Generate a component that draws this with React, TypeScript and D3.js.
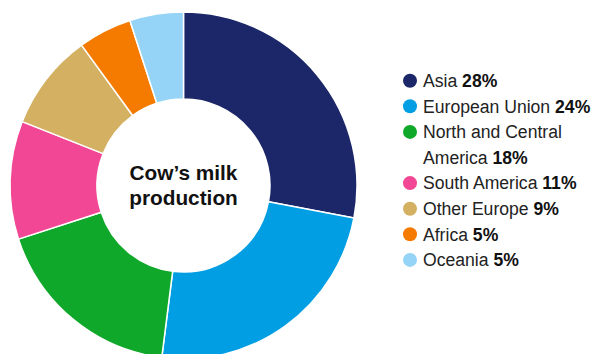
import React from "react";
import * as d3 from "d3";

const categories = ["Asia", "European Union", "North and Central America", "South America", "Other Europe", "Africa", "Oceania"];
const values = [28, 24, 18, 11, 9, 5, 5];
const colors = ["#1b2768", "#029ee3", "#10a82b", "#f24794", "#d4b062", "#f57b00", "#95d4f6"];
const centerTitle = ["Cow\u2019s milk", "production"];

const W = 594, H = 354;
const cx = 183.5, cy = 185.5, rOuter = 173.5, rInner = 86.5;
const FONT = "'Liberation Sans', Arial, Helvetica, sans-serif";
const FS = 17.6;
const legendX = 410, legendTop = 80.7, lineH = 25.6, maxW = 180;

function measure(text: string, bold: boolean) {
  const c = document.createElement("canvas").getContext("2d")!;
  c.font = `${bold ? "bold " : ""}${FS}px ${FONT}`;
  return c.measureText(text).width;
}

function wrap(name: string, pct: string) {
  const words = name.split(" ");
  const lines: string[][] = [[]];
  words.forEach((w) => {
    const cur = lines[lines.length - 1];
    const test = [...cur, w].join(" ");
    if (cur.length && measure(test, false) > maxW) lines.push([w]);
    else cur.push(w);
  });
  const last = lines[lines.length - 1].join(" ");
  const out = lines.map((l) => l.join(" "));
  if (measure(last + " ", false) + measure(pct, true) > maxW) {
    const lw = lines[lines.length - 1];
    if (lw.length > 1) {
      const moved = lw.pop()!;
      out[out.length - 1] = lw.join(" ");
      out.push(moved);
    }
  }
  return out;
}

export default function App() {
  const pie = d3.pie<number>().sort(null).value((d) => d)(values);
  const arc = d3.arc<d3.PieArcDatum<number>>().innerRadius(rInner).outerRadius(rOuter);

  let lineIdx = 0;
  const legendItems = categories.map((name, i) => {
    const pct = `${values[i]}%`;
    const lines = wrap(name, pct);
    const startIdx = lineIdx;
    lineIdx += lines.length;
    const y0 = legendTop + startIdx * lineH;
    return (
      <g key={name}>
        <circle cx={legendX} cy={y0} r={7} fill={colors[i]} />
        {lines.map((ln, j) => (
          <text key={j} x={legendX + 13} y={y0 + j * lineH + 6.3} fontSize={FS} fontFamily={FONT} fill="#222">
            {ln}
            {j === lines.length - 1 && (
              <tspan fontWeight="bold" fill="#111">{" " + pct}</tspan>
            )}
          </text>
        ))}
      </g>
    );
  });

  return (
    <svg width={W} height={H} style={{ position: "absolute", left: 0, top: 0, background: "#fff" }}>
      <g transform={`translate(${cx},${cy})`}>
        {pie.map((d, i) => (
          <path key={i} d={arc(d)!} fill={colors[i]} stroke="#fff" strokeWidth={1.5} strokeLinejoin="round" />
        ))}
        {centerTitle.map((t, i) => (
          <text key={i} x={0} y={-5.5 + i * 24.5} textAnchor="middle" fontSize={20.8} fontWeight="bold" fontFamily={FONT} fill="#111">
            {t}
          </text>
        ))}
      </g>
      {legendItems}
    </svg>
  );
}
